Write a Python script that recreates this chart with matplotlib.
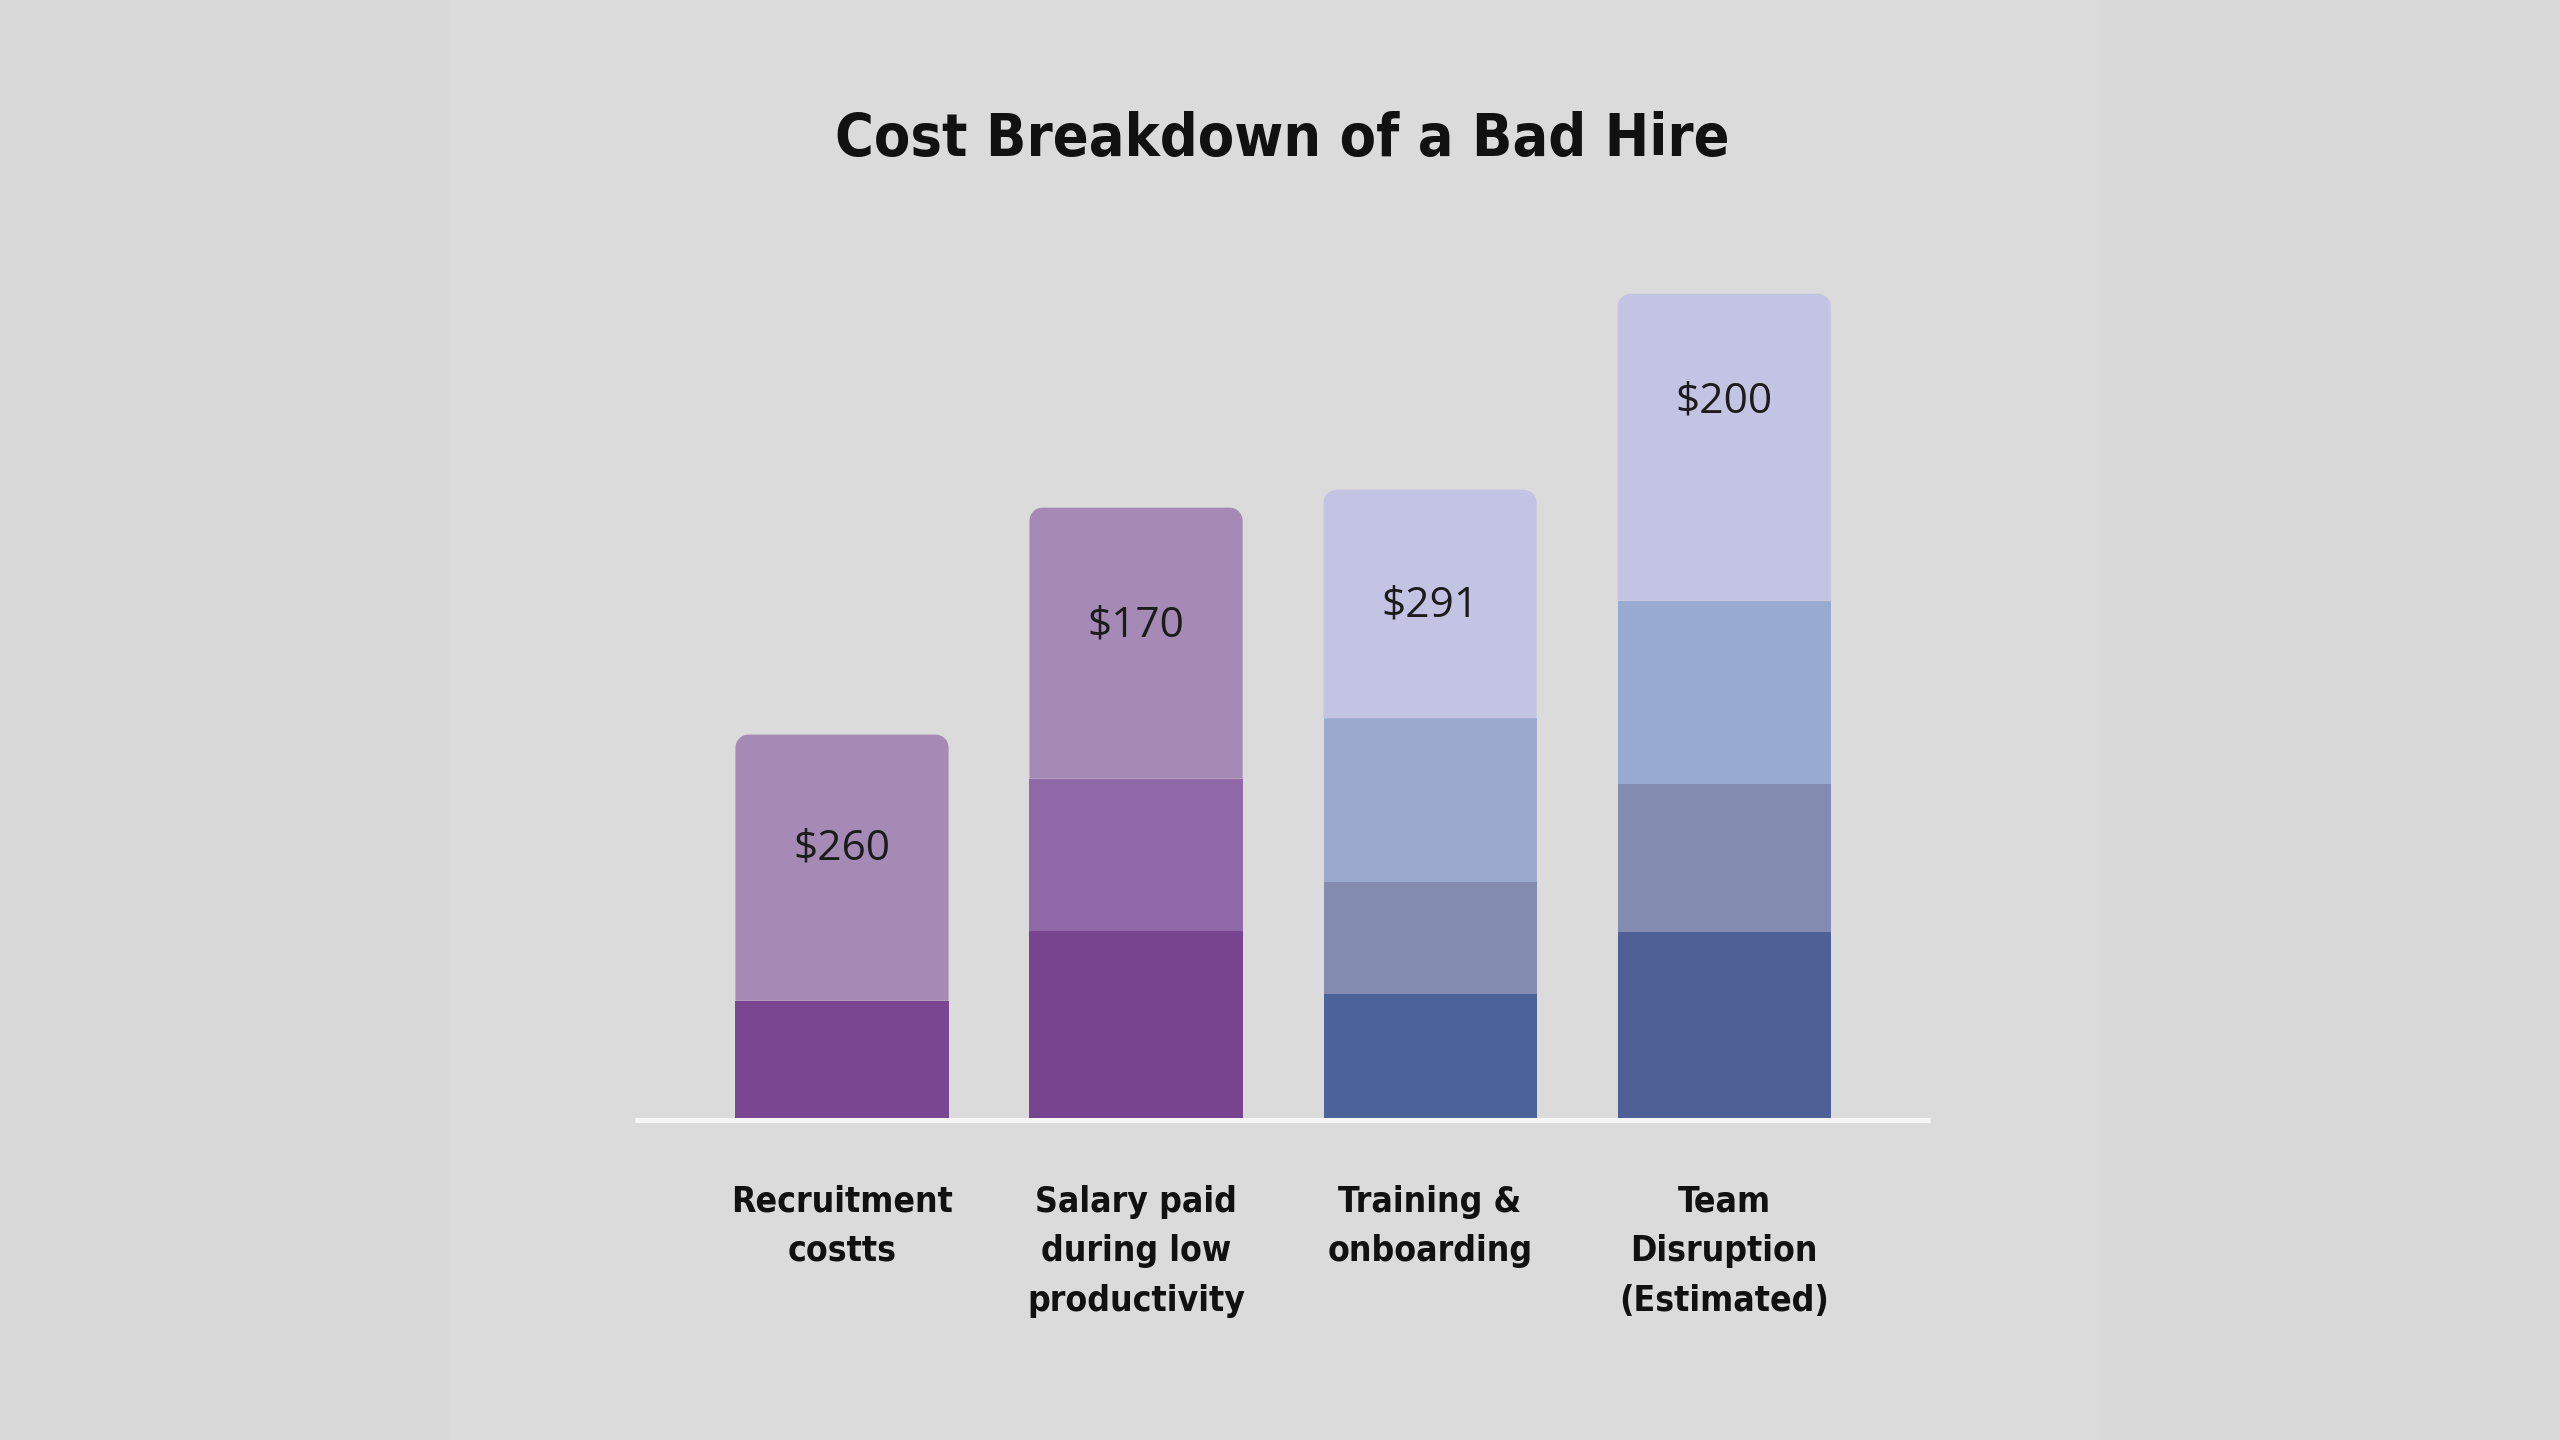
import numpy as np
import matplotlib
matplotlib.use("Agg")
import matplotlib.pyplot as plt
from matplotlib import font_manager as fm
from matplotlib.patches import Polygon, Rectangle
from matplotlib.transforms import blended_transform_factory

# segment heights, bottom to top, per category
categories = ["Recruitment\ncostts", "Salary paid\nduring low\nproductivity",
              "Training &\nonboarding", "Team\nDisruption\n(Estimated)"]
segments = [
    [73, 163],
    [116, 93, 166],
    [77, 69, 100, 140],
    [115, 91, 112, 188],
]
seg_colors = [
    ["#7a4591", "#a58ab5"],
    ["#78448f", "#9168a8", "#a58ab5"],
    ["#4c6399", "#838cae", "#9aaacf", "#c3c4e3"],
    ["#4f6096", "#838cb0", "#99aad0", "#c3c4e3"],
]
value_labels = ["$260", "$170", "$291", "$200"]
label_pos = [166, 303, 315, 440]

names = {f.name for f in fm.fontManager.ttflist}
# look for a narrow bold face, else shrink a normal one
narrow_file = None
for f in fm.fontManager.ttflist:
    is_narrow = ("Narrow" in f.name or "Condensed" in f.name
                 or f.stretch in ("condensed", "semi-condensed", 400, 300))
    is_bold = f.weight in ("bold", 700, "semibold", 600, "demibold")
    if is_narrow and is_bold and "Mono" not in f.name:
        narrow_file = f.fname
        break

if narrow_file:
    label_fp = dict(fontproperties=fm.FontProperties(fname=narrow_file, size=25.5))
    title_fp = dict(fontproperties=fm.FontProperties(fname=narrow_file, size=42.5))
else:
    label_fp = dict(fontsize=21, fontweight="bold", family="DejaVu Sans")
    title_fp = dict(fontsize=37.5, fontweight="bold", family="DejaVu Sans")
value_font = "Open Sans" if "Open Sans" in names else "DejaVu Sans"

fig = plt.figure(figsize=(25.6, 14.4), dpi=100)
fig.patch.set_facecolor("#d9d9d9")
fig.add_artist(Rectangle((450 / 2560, 0), 1650 / 2560, 1, transform=fig.transFigure,
                         facecolor="#dcdbdc", edgecolor="none", zorder=0))

ax = fig.add_axes([635 / 2560, 320 / 1440, 1295 / 2560, 870 / 1440])
ax.set_facecolor("none")
ax.set_xlim(-0.704, 3.70)
ax.set_ylim(0, 532.8)
ax.axis("off")

width = 0.725
rx = 0.044
ry = 8.0
t = np.linspace(0, np.pi / 2, 12)


def rounded_top(x0, y0, w, h):
    # outline of a box with only its two top corners rounded
    x1, y1 = x0 + w, y0 + h
    pts = [(x0, y0), (x1, y0)]
    pts += list(zip(x1 - rx + rx * np.cos(t), y1 - ry + ry * np.sin(t)))
    pts += list(zip(x0 + rx - rx * np.cos(t[::-1]), y1 - ry + ry * np.sin(t[::-1])))
    return pts


for i, segs in enumerate(segments):
    bottom = 0
    for j, h in enumerate(segs):
        col = seg_colors[i][j]
        if j < len(segs) - 1:
            ax.bar(i, h, width=width, bottom=bottom, color=col, linewidth=0, zorder=2)
        else:
            ax.add_patch(Polygon(rounded_top(i - width / 2, bottom, width, h), closed=True,
                                 facecolor=col, edgecolor="none", zorder=2))
        bottom += h
    ax.text(i, label_pos[i], value_labels[i], ha="center", va="center",
            fontsize=30.5, color="#1c1c1c", family=[value_font, "DejaVu Sans"], zorder=3)

ax.plot([-0.704, 3.70], [0, 0], color="#f7f7f7", lw=3.6, solid_capstyle="butt",
        zorder=3, clip_on=False)

trans = blended_transform_factory(ax.transData, fig.transFigure)
line_y = [0.1653, 0.1313, 0.0965]
for i, cat in enumerate(categories):
    for k, line in enumerate(cat.split("\n")):
        ax.text(i, line_y[k], line, transform=trans, ha="center", va="center",
                color="#111111", **label_fp)

fig.text(0.501, 0.903, "Cost Breakdown of a Bad Hire", ha="center", va="center",
         color="#111111", **title_fp)

fig.savefig("out.png", dpi=100, facecolor=fig.get_facecolor())
